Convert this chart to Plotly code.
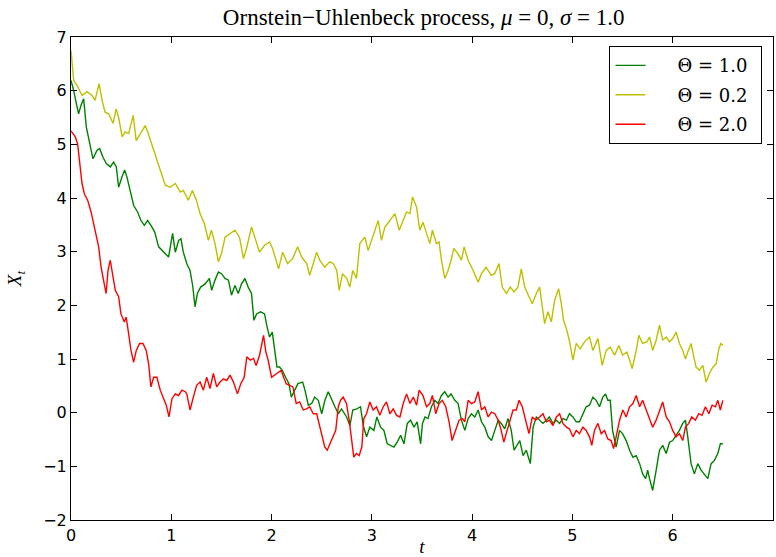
import plotly.graph_objects as go

# Sample paths of the Ornstein-Uhlenbeck process (mu = 0, sigma = 1.0)
t_g = [0, 0.027, 0.053, 0.076, 0.1, 0.126, 0.153, 0.186, 0.219, 0.26, 0.286, 0.319, 0.352, 0.392, 0.425,
       0.452, 0.475, 0.508, 0.535, 0.558, 0.59, 0.625, 0.664, 0.698, 0.731, 0.764, 0.797, 0.834, 0.874, 0.907,
       0.94, 0.973, 1.013, 1.04, 1.073, 1.096, 1.12, 1.154, 1.187, 1.213, 1.237, 1.26, 1.293, 1.337, 1.38,
       1.403, 1.436, 1.47, 1.5, 1.536, 1.57, 1.6, 1.635, 1.668, 1.7, 1.734, 1.767, 1.8, 1.824, 1.85, 1.89,
       1.93, 1.955, 1.98, 2.007, 2.03, 2.054, 2.08, 2.107, 2.14, 2.173, 2.197, 2.23, 2.263, 2.31, 2.333,
       2.366, 2.4, 2.43, 2.466, 2.5, 2.532, 2.565, 2.6, 2.632, 2.665, 2.698, 2.748, 2.781, 2.81, 2.85, 2.887,
       2.914, 2.947, 2.98, 3.02, 3.05, 3.087, 3.12, 3.153, 3.187, 3.22, 3.253, 3.287, 3.32, 3.353, 3.386,
       3.42, 3.452, 3.486, 3.505, 3.53, 3.56, 3.594, 3.627, 3.66, 3.694, 3.727, 3.76, 3.79, 3.827, 3.86,
       3.893, 3.927, 3.96, 3.993, 4.026, 4.06, 4.093, 4.126, 4.16, 4.193, 4.226, 4.26, 4.29, 4.325, 4.358,
       4.39, 4.418, 4.448, 4.475, 4.508, 4.54, 4.58, 4.608, 4.64, 4.673, 4.706, 4.74, 4.77, 4.806, 4.84,
       4.872, 4.905, 4.94, 4.97, 5.005, 5.038, 5.07, 5.104, 5.137, 5.17, 5.204, 5.237, 5.27, 5.303, 5.33,
       5.353, 5.377, 5.4, 5.436, 5.47, 5.5, 5.536, 5.57, 5.603, 5.636, 5.67, 5.7, 5.73, 5.75, 5.769, 5.8,
       5.835, 5.868, 5.9, 5.935, 5.968, 6.0, 6.034, 6.067, 6.1, 6.127, 6.15, 6.183, 6.216, 6.25, 6.283,
       6.316, 6.35, 6.383, 6.416, 6.45, 6.475, 6.5]
x_g = [6.19, 6.0, 5.76, 5.57, 5.73, 5.85, 5.32, 5.01, 4.73, 4.89, 4.92, 4.76, 4.64, 4.58, 4.67,
       4.58, 4.2, 4.39, 4.52, 4.39, 4.14, 3.86, 3.74, 3.58, 3.49, 3.58, 3.49, 3.37, 3.09, 3.02,
       2.96, 2.9, 3.34, 2.99, 3.21, 3.24, 2.99, 2.78, 2.65, 2.37, 1.97, 2.22, 2.34, 2.4, 2.5,
       2.28, 2.47, 2.62, 2.59, 2.5, 2.47, 2.19, 2.37, 2.22, 2.4, 2.5, 2.34, 2.22, 1.72, 1.84, 1.88,
       1.84, 1.6, 1.41, 1.5, 1.16, 0.85, 0.85, 0.79, 0.66, 0.54, 0.29, 0.42, 0.54, 0.57, 0.42,
       0.14, 0.17, 0.29, 0.23, -0.02, 0.23, 0.39, 0.23, 0.11, -0.02, 0.07, -0.08, -0.24, 0.05, 0.07, 0.11,
       -0.24, -0.45, -0.27, -0.33, -0.08, -0.27, -0.33, -0.58, -0.61, -0.64, -0.55, -0.42, -0.58, -0.2, -0.14,
       -0.27, -0.17, -0.58, -0.2, -0.08, -0.11, 0.11, 0.23, 0.17, 0.32, 0.39, 0.29, 0.35, 0.23, 0.17,
       -0.14, -0.33, -0.11, -0.02, -0.08, 0.05, -0.17, -0.27, -0.45, -0.52, -0.33, -0.14, -0.2, -0.3, -0.11,
       -0.33, -0.7, -0.61, -0.52, -0.8, -0.7, -0.95, -0.27, -0.08, -0.14, -0.2, -0.14, -0.08, -0.2, -0.14,
       -0.2, -0.11, -0.14, -0.02, -0.08, -0.17, -0.17, -0.02, 0.11, 0.14, 0.29, 0.23, 0.11, 0.29, 0.35,
       0.23, 0.23, -0.33, -0.64, -0.33, -0.39, -0.52, -0.7, -0.83, -0.8, -0.95, -1.14, -1.23, -1.07, -1.23, -1.45,
       -1.07, -0.7, -0.61, -0.76, -0.55, -0.52, -0.42, -0.33, -0.2, -0.14, -0.45, -0.95, -1.14, -0.95, -1.07,
       -1.14, -1.23, -0.95, -0.89, -0.76, -0.58, -0.58]

t_y = [0, 0.027, 0.06, 0.11, 0.16, 0.21, 0.24, 0.28, 0.31, 0.34, 0.375, 0.42, 0.45, 0.475, 0.51, 0.54,
       0.575, 0.62, 0.65, 0.69, 0.74, 0.77, 0.82, 0.86, 0.91, 0.94, 0.99, 1.04, 1.09, 1.12, 1.17, 1.21,
       1.25, 1.287, 1.33, 1.37, 1.40, 1.436, 1.47, 1.5, 1.536, 1.586, 1.635, 1.68, 1.72, 1.75, 1.8, 1.843,
       1.88, 1.93, 1.98, 2.01, 2.07, 2.11, 2.16, 2.21, 2.26, 2.3, 2.35, 2.38, 2.416, 2.45, 2.48, 2.53,
       2.58, 2.615, 2.65, 2.674, 2.707, 2.75, 2.78, 2.81, 2.846, 2.88, 2.93, 2.963, 2.997, 3.03, 3.063,
       3.096, 3.13, 3.18, 3.23, 3.273, 3.313, 3.346, 3.38, 3.406, 3.446, 3.478, 3.51, 3.545, 3.578, 3.604,
       3.644, 3.67, 3.694, 3.727, 3.76, 3.79, 3.817, 3.86, 3.893, 3.92, 3.96, 4.01, 4.06, 4.093, 4.14, 4.19,
       4.225, 4.268, 4.3, 4.341, 4.38, 4.418, 4.457, 4.49, 4.524, 4.567, 4.6, 4.64, 4.673, 4.7, 4.723,
       4.756, 4.79, 4.822, 4.862, 4.889, 4.912, 4.945, 4.972, 5.005, 5.038, 5.078, 5.12, 5.17, 5.204,
       5.254, 5.297, 5.337, 5.377, 5.42, 5.463, 5.5, 5.543, 5.57, 5.596, 5.636, 5.662, 5.7, 5.742, 5.769,
       5.8, 5.835, 5.868, 5.9, 5.935, 5.968, 6.0, 6.034, 6.067, 6.1, 6.127, 6.15, 6.183, 6.207, 6.233,
       6.266, 6.3, 6.333, 6.366, 6.4, 6.433, 6.46, 6.48, 6.5]
x_y = [6.75, 6.19, 6.1, 5.91, 5.98, 5.91, 5.82, 6.13, 5.82, 5.6, 5.57, 5.39, 5.66, 5.5, 5.14, 5.23,
       5.2, 5.54, 5.07, 5.2, 5.35, 5.2, 4.92, 4.7, 4.39, 4.24, 4.2, 4.27, 4.11, 4.14, 3.96, 4.14,
       3.96, 3.71, 3.52, 3.21, 3.4, 3.15, 2.81, 2.96, 3.27, 3.34, 3.4, 3.27, 2.87, 3.06, 3.46, 3.21,
       2.99, 3.12, 3.18, 3.06, 2.68, 2.99, 2.78, 2.87, 3.09, 2.9, 2.78, 2.56, 2.78, 2.99, 2.84, 2.71,
       2.81, 2.78, 2.65, 2.28, 2.59, 2.5, 2.34, 2.65, 2.5, 3.15, 3.27, 3.02, 3.21, 3.4, 3.58,
       3.21, 3.46, 3.58, 3.71, 3.4, 3.58, 3.74, 3.71, 4.02, 3.83, 3.4, 3.55, 3.34, 3.15, 3.4,
       3.15, 3.18, 2.84, 2.5, 2.65, 2.84, 3.06, 2.96, 2.84, 3.09, 2.84, 2.65, 2.43, 2.59, 2.71, 2.56,
       2.59, 2.78, 2.34, 2.22, 2.34, 2.25, 2.34, 2.68, 2.34, 2.16, 2.03, 2.22, 2.34, 1.97, 1.66,
       1.88, 1.69, 2.09, 2.31, 2.03, 1.72, 1.53, 1.32, 0.98, 1.29, 1.19, 1.32, 1.41, 1.16,
       1.38, 0.88, 1.16, 1.22, 1.07, 1.25, 1.07, 1.13, 0.98, 0.82, 1.16, 1.44, 1.29, 1.32, 1.41,
       1.16, 1.35, 1.63, 1.35, 1.41, 1.32, 1.38, 1.5, 1.29, 1.16, 1.0, 1.13, 1.29, 1.07, 0.85,
       0.79, 0.88, 0.57, 0.73, 0.85, 0.91, 1.19, 1.29, 1.25]

t_r = [0, 0.02, 0.043, 0.066, 0.086, 0.11, 0.133, 0.166, 0.2, 0.226, 0.252, 0.276, 0.3, 0.326, 0.35,
       0.369, 0.392, 0.419, 0.442, 0.475, 0.498, 0.532, 0.55, 0.575, 0.598, 0.625, 0.651, 0.684, 0.718,
       0.75, 0.774, 0.797, 0.824, 0.857, 0.89, 0.917, 0.95, 0.977, 1.007, 1.04, 1.073, 1.106, 1.14, 1.154,
       1.187, 1.22, 1.253, 1.287, 1.32, 1.353, 1.386, 1.42, 1.453, 1.486, 1.52, 1.553, 1.586, 1.62, 1.66,
       1.693, 1.727, 1.753, 1.787, 1.82, 1.846, 1.88, 1.9, 1.92, 1.943, 1.966, 2.0, 2.03, 2.063, 2.096,
       2.12, 2.146, 2.18, 2.213, 2.246, 2.28, 2.316, 2.35, 2.38, 2.416, 2.45, 2.48, 2.506, 2.53, 2.555,
       2.585, 2.615, 2.64, 2.665, 2.688, 2.714, 2.747, 2.774, 2.8, 2.82, 2.846, 2.873, 2.9, 2.92, 2.947,
       2.98, 3.013, 3.046, 3.08, 3.113, 3.146, 3.18, 3.213, 3.246, 3.28, 3.313, 3.346, 3.38, 3.413, 3.446,
       3.472, 3.51, 3.545, 3.578, 3.604, 3.637, 3.67, 3.703, 3.737, 3.77, 3.8, 3.837, 3.87, 3.903, 3.927,
       3.96, 3.993, 4.026, 4.06, 4.093, 4.126, 4.16, 4.193, 4.226, 4.26, 4.29, 4.315, 4.34, 4.375, 4.408,
       4.44, 4.468, 4.5, 4.534, 4.567, 4.6, 4.634, 4.673, 4.706, 4.74, 4.77, 4.806, 4.84, 4.872, 4.905,
       4.94, 4.97, 5.005, 5.038, 5.07, 5.104, 5.137, 5.17, 5.193, 5.22, 5.254, 5.287, 5.32, 5.353, 5.386,
       5.41, 5.436, 5.47, 5.503, 5.536, 5.57, 5.603, 5.636, 5.67, 5.7, 5.737, 5.769, 5.8, 5.835, 5.868,
       5.9, 5.935, 5.968, 6.0, 6.034, 6.067, 6.1, 6.127, 6.16, 6.19, 6.226, 6.26, 6.293, 6.326, 6.36,
       6.393, 6.426, 6.45, 6.475, 6.5]
x_r = [5.25, 5.2, 5.14, 5.01, 4.64, 4.27, 4.08, 3.96, 3.74, 3.52, 3.27, 3.09, 2.71, 2.47, 2.22,
       2.65, 2.84, 2.53, 2.28, 2.16, 1.84, 1.69, 1.78, 1.47, 1.16, 0.94, 1.16, 1.29, 1.29,
       1.16, 0.91, 0.48, 0.66, 0.66, 0.42, 0.29, 0.14, -0.08, 0.26, 0.35, 0.32, 0.42, 0.39, 0.35,
       0.05, 0.29, 0.51, 0.57, 0.42, 0.66, 0.45, 0.73, 0.48, 0.57, 0.63, 0.6, 0.7, 0.57, 0.35,
       0.54, 0.66, 1.04, 0.98, 1.01, 0.88, 1.07, 1.29, 1.44, 1.13, 0.98, 0.66, 0.7, 0.76, 0.79,
       0.66, 0.54, 0.51, 0.48, 0.17, 0.2, 0.05, 0.07, 0.11, -0.02, -0.02, -0.24, -0.45, -0.64, -0.7,
       -0.58, -0.45, -0.33, 0.11, 0.23, 0.29, 0.17, -0.14, -0.58, -0.83, -0.76, -0.8, -0.64, -0.11, -0.02,
       0.2, 0.05, 0.11, -0.05, 0.11, 0.2, -0.02, 0.07, -0.05, -0.08, 0.17, 0.35, 0.17, 0.29, 0.14,
       0.42, 0.32, 0.11, 0.17, 0.32, -0.02, 0.17, 0.23, 0.11, -0.17, -0.52, -0.33, -0.14, -0.11, -0.17,
       0.23, 0.17, 0.2, 0.39, 0.05, 0.11, -0.08, 0.01, -0.02, -0.14, -0.33, -0.55, -0.39, -0.14, 0.05,
       0.05, 0.23, 0.11, -0.17, -0.39, -0.08, -0.14, -0.08, -0.02, -0.17, -0.14, -0.24, -0.08, -0.02, -0.2,
       -0.27, -0.3, -0.45, -0.33, -0.39, -0.27, -0.33, -0.45, -0.61, -0.33, -0.2, -0.39, -0.33, -0.49, -0.52,
       -0.67, -0.45, -0.14, 0.05, -0.08, 0.11, 0.17, 0.32, 0.11, 0.23, 0.05, -0.14, -0.27, -0.14, 0.05,
       0.2, -0.08, -0.17, -0.33, -0.45, -0.39, -0.52, -0.27, -0.2, -0.08, -0.14, -0.02, -0.05, 0.11, -0.02,
       0.14, 0.11, 0.23, 0.05, 0.23]

labels = ["Θ = 1.0", "Θ = 0.2", "Θ = 2.0"]
colors = ["#008000", "#bfbf00", "#ff0000"]
paths = [(t_g, x_g), (t_y, x_y), (t_r, x_r)]

# en spaces push the legend text away from the line samples
pad = "\u2002\u2002\u2002"

fig = go.Figure()
for label, (t, x), color in zip(labels, paths, colors):
    fig.add_trace(go.Scatter(x=t, y=x, mode="lines", name=pad + label + "\u2002",
                             legendgroup=label,
                             line=dict(color=color, width=1.4)))

axis_common = dict(
    showline=True, linecolor="black", linewidth=1,
    mirror="allticks", ticks="inside", ticklen=6, tickwidth=1, tickcolor="black",
    showgrid=False, zeroline=False, dtick=1, automargin=False,
    tickfont=dict(family="DejaVu Sans", size=16, color="black"),
)

fig.update_layout(
    template="none",
    width=776, height=557,
    margin=dict(l=71, r=3, t=37, b=37),
    paper_bgcolor="white", plot_bgcolor="white",
    title=dict(text="Ornstein−Uhlenbeck process, <i>μ</i> = 0, <i>σ</i> = 1.0",
               x=0.546, xanchor="center", y=0.97, yanchor="middle", yref="container",
               font=dict(family="Liberation Serif", size=23, color="black")),
    xaxis=dict(range=[0, 7], ticklabelstandoff=1,
               title=dict(text="<i>t</i>", standoff=3,
                          font=dict(family="Liberation Serif", size=19, color="black")),
               **axis_common),
    yaxis=dict(range=[-2, 7],
               title=dict(text="<i>X</i><sub><i>t</i></sub>", standoff=16,
                          font=dict(family="Liberation Serif", size=19, color="black")),
               **axis_common),
    legend=dict(x=0.985, y=0.981, xanchor="right", yanchor="top", tracegroupgap=3,
                bgcolor="white", bordercolor="black", borderwidth=1,
                font=dict(family="DejaVu Serif", size=18, color="black")),
    showlegend=True,
)

fig.write_html("out.html")
